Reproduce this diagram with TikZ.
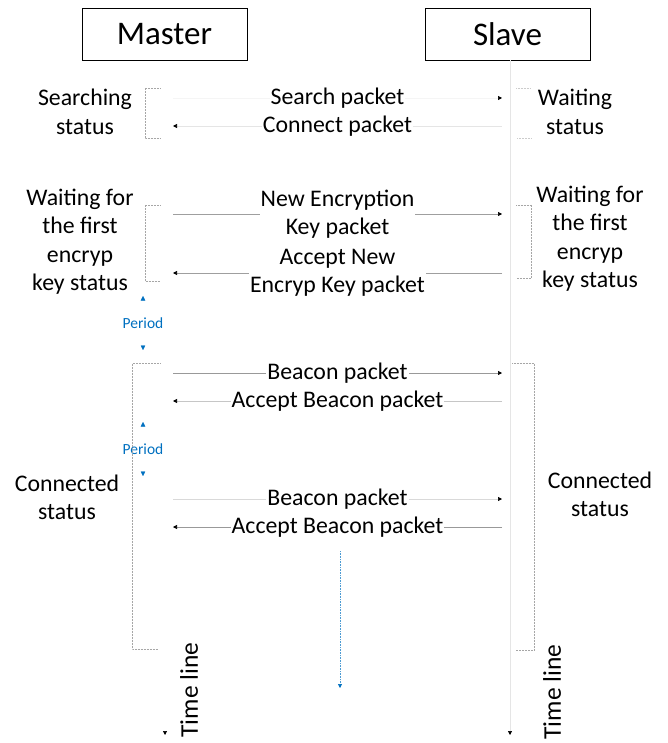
\documentclass[tikz,border=0pt]{standalone}
\usepackage{fontspec}
\setmainfont{Carlito}
\usetikzlibrary{arrows.meta, positioning, calc}
\definecolor{periodblue}{HTML}{0070C0}

\begin{document}
\begin{tikzpicture}[x=1pt, y=-1pt,
    actor/.style={draw, thin, minimum width=165pt, minimum height=52pt,
                  font=\fontsize{33}{36}\selectfont},
    lbl/.style={fill=white, text=black, inner sep=1pt, align=center,
                font=\fontsize{23.8}{28.5}\selectfont},
    state/.style={align=center, font=\fontsize{23.8}{28.5}\selectfont},
    msg/.style={-{Triangle[length=4pt, width=4pt, color=black]}, line width=0.7pt},
    bracket/.style={densely dotted, gray!70, line width=0.5pt},
    period/.style={white, {Triangle[length=4.5pt, width=4.5pt, color=periodblue]}-{Triangle[length=4.5pt, width=4.5pt, color=periodblue]}},
    periodtext/.style={text=periodblue, font=\fontsize{15.5}{17}\selectfont}
  ]
  \useasboundingbox (0,0) rectangle (667,743);

  % actors and time lines
  \node[actor] (master) at (164.5,34) {Master};
  \node[actor] (slave) at (507.5,34) {Slave};
  \coordinate (mend) at (165,735);
  \coordinate (send) at (510,735);
  \draw[msg, white, shorten <=1pt] (master.south -| mend) -- (mend);
  \draw[msg, gray!20] (slave.south -| send) -- (send);
  \node[rotate=90, font=\fontsize{25.5}{28}\selectfont] (mtime) at (189,690) {Time line};
  \node[rotate=90, font=\fontsize{25.5}{28}\selectfont] (stime) at (552,692) {Time line};

  % searching
  \node[state] (search) at (85,112) {Searching\\status};
  \node[state] (swait) at (575,112) {Waiting\\status};
  \draw[bracket] (160,88) -- (145,88) -- (145,138) -- (160,138);
  \draw[bracket, gray!40] (516,88) -- (531,88) (531,138) -- (516,138);
  \coordinate (m1) at (173,98);  \coordinate (s1) at (502,98);
  \coordinate (m2) at (173,126); \coordinate (s2) at (502,126);
  \draw[msg, gray!8] (m1) -- node[lbl] {Search packet} (s1);
  \draw[msg, gray!20] (s2) -- node[lbl] {Connect packet} (m2);

  % first encryption key
  \node[state] (mkey) at (80,241.5) {Waiting for\\the first\\encryp\\key status};
  \node[state] (skey) at (590,238.5) {Waiting for\\the first\\encryp\\key status};
  \draw[bracket] (160,205) -- (145,205) -- (145,281) -- (160,281);
  \draw[bracket] (516,205) -- (531,205) -- (531,278) -- (516,278);
  \coordinate (m3) at (173,214); \coordinate (s3) at (502,214);
  \coordinate (m4) at (173,273); \coordinate (s4) at (502,273);
  \draw[msg, gray!75] (m3) -- node[lbl] {New Encryption\\Key packet} (s3);
  \draw[msg, gray!75] (s4) -- node[lbl] {Accept New\\Encryp Key packet} (m4);

  % period
  \coordinate (p1a) at (143,296); \coordinate (p1b) at (143,350);
  \draw[period] (p1a) -- node[periodtext] {Period} (p1b);
  \coordinate (p2a) at (143,422); \coordinate (p2b) at (143,476);
  \draw[period] (p2a) -- node[periodtext] {Period} (p2b);

  % connected
  \node[state] (mcon) at (67,497.5) {Connected\\status};
  \node[state] (scon) at (600,494.5) {Connected\\status};
  \draw[bracket] (160,363) -- (132,363) -- (132,649) -- (158,649);
  \draw[bracket] (512,363) -- (534,363) -- (534,650) -- (515,650);
  \coordinate (m5) at (173,373); \coordinate (s5) at (502,373);
  \coordinate (m6) at (173,401); \coordinate (s6) at (502,401);
  \coordinate (m7) at (173,499); \coordinate (s7) at (502,499);
  \coordinate (m8) at (173,527); \coordinate (s8) at (502,527);
  \draw[msg, gray!80] (m5) -- node[lbl] {Beacon packet} (s5);
  \draw[msg, gray!45] (s6) -- node[lbl] {Accept Beacon packet} (m6);
  \draw[msg, gray!30] (m7) -- node[lbl] {Beacon packet} (s7);
  \draw[msg, gray!80] (s8) -- node[lbl] {Accept Beacon packet} (m8);

  % continues
  \coordinate (ctop) at (340,551); \coordinate (cend) at (340,688);
  \draw[periodblue!70, densely dotted, line width=0.6pt,
        -{Triangle[length=4pt, width=4pt, color=periodblue]}] (ctop) -- (cend);
\end{tikzpicture}
\end{document}
